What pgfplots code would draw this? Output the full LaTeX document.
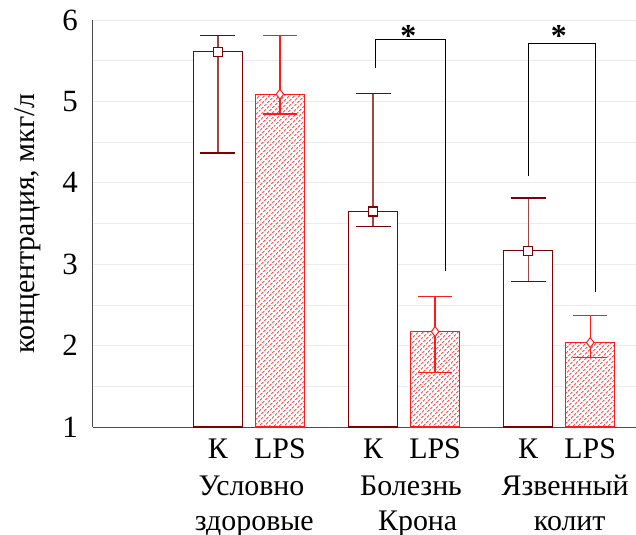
\documentclass[border=0pt]{standalone}
\usepackage{pgfplots}
\pgfplotsset{compat=1.18}
\usepackage{fontspec}
\setmainfont{Liberation Serif}
\usetikzlibrary{patterns.meta}
\definecolor{kred}{HTML}{800000}
\definecolor{kbar}{HTML}{9E4545}
\definecolor{lred}{HTML}{FF1A1A}
\begin{document}
\begin{tikzpicture}
\begin{axis}[name=ax, scale only axis, width=543bp, height=407bp,
  xmin=0, xmax=3.5, ymin=1, ymax=6,
  axis x line*=bottom, axis y line*=left,
  axis line style={draw=black!70, line width=1bp, -},
  ytick={1,2,3,4,5,6}, minor ytick={1.5,2.5,3.5,4.5,5.5},
  ymajorgrids, yminorgrids,
  grid style={draw=black!8, line width=0.8bp},
  major tick length=0pt, minor tick length=0pt,
  xtick={0.805,1.205,1.805,2.205,2.805,3.205},
  xticklabels={К,LPS,К,LPS,К,LPS},
  tick label style={font=\fontsize{31}{36}\selectfont},
  /pgf/number format/assume math mode=true,
  xticklabel style={anchor=base, yshift=-31bp, inner sep=0pt, font=\fontsize{30}{36}\selectfont},
  yticklabel style={anchor=east, xshift=-15bp, inner sep=0pt},
  ylabel={концентрация, мкг/л},
  ylabel style={font=\fontsize{30}{36}\selectfont, at={(axis description cs:-0.1197,0.5)}, anchor=center},
  clip=false]

\addplot[ybar, bar width=0.315, bar shift=0pt, draw=kred, fill=white, line width=1.3bp,
  mark=square*, mark options={fill=white, draw=kred, mark size=4.5bp, line width=1.2bp},
  error bars/.cd, y dir=both, y explicit,
  error bar style={draw=kbar, line width=1.3bp},
  error mark options={rotate=90, draw=kred, mark size=17.5bp, line width=1.3bp}]
coordinates {
  (0.805,5.610) += (0,0.203) -= (0,1.244)
  (1.805,3.648) += (0,1.452) -= (0,0.184)
  (2.805,3.165) += (0,0.648) -= (0,0.378)
};

\addplot[ybar, bar width=0.315, bar shift=0pt, draw=lred, line width=1.3bp,
  pattern={Lines[angle=45, distance=3.6bp, line width=0.9bp]}, pattern color=red,
  mark=diamond*, mark options={fill=white, draw=lred, mark size=5bp, line width=1bp},
  error bars/.cd, y dir=both, y explicit,
  error bar style={draw=lred, line width=1.2bp},
  error mark options={rotate=90, draw=lred, mark size=17bp, line width=1.2bp}]
coordinates {
  (1.205,5.087) += (0,0.723) -= (0,0.241)
  (2.205,2.172) += (0,0.431) -= (0,0.500)
  (3.205,2.037) += (0,0.328) -= (0,0.180)
};

\addplot[black, line width=1bp, mark=none, sharp plot, forget plot]
  coordinates {(1.824,5.41) (1.824,5.763) (2.272,5.763) (2.272,2.92)};
\addplot[black, line width=1bp, mark=none, sharp plot, forget plot]
  coordinates {(2.806,4.08) (2.806,5.714) (3.241,5.714) (3.241,2.66)};

\node[anchor=base, font=\fontsize{32}{36}\selectfont\bfseries] at (axis cs:2.032,5.68) {*};
\node[anchor=base, font=\fontsize{32}{36}\selectfont\bfseries] at (axis cs:3.003,5.68) {*};

\node[anchor=base, inner sep=0pt, yshift=-68bp, font=\fontsize{30}{36}\selectfont] at (axis cs:1.022,1) {Условно};
\node[anchor=base, inner sep=0pt, yshift=-103bp, font=\fontsize{30}{36}\selectfont] at (axis cs:1.040,1) {здоровые};
\node[anchor=base, inner sep=0pt, yshift=-68bp, font=\fontsize{30}{36}\selectfont] at (axis cs:2.050,1) {Болезнь};
\node[anchor=base, inner sep=0pt, yshift=-103bp, font=\fontsize{30}{36}\selectfont] at (axis cs:2.093,1) {Крона};
\node[anchor=base, inner sep=0pt, yshift=-68bp, font=\fontsize{30}{36}\selectfont] at (axis cs:3.043,1) {Язвенный};
\node[anchor=base, inner sep=0pt, yshift=-103bp, font=\fontsize{30}{36}\selectfont] at (axis cs:3.073,1) {колит};
\end{axis}
\pgfresetboundingbox
\path[use as bounding box] ([xshift=-93bp,yshift=-108bp]ax.south west) rectangle ([yshift=20bp]ax.north east);
\end{tikzpicture}
\end{document}
